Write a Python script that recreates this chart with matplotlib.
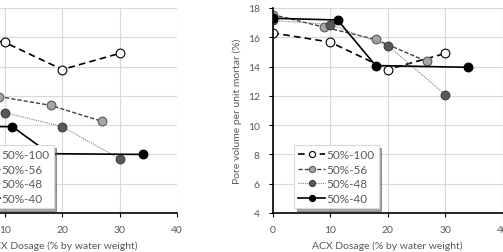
import matplotlib.pyplot as plt

plt.rcParams['font.family'] = ['Lato', 'DejaVu Sans']

# Series labels
labels = ['50%-100', '50%-56', '50%-48', '50%-40']

# Left panel (partly cropped off the figure)
left_x = {
    '50%-100': [0, 10, 20, 30],
    '50%-56': [0, 9, 18, 27],
    '50%-48': [0, 10, 20, 30],
    '50%-40': [0, 11.3, 17.8, 34],
}
left_y = {
    '50%-100': [16.4, 15.65, 13.8, 14.9],
    '50%-56': [12.4, 11.95, 11.35, 10.25],
    '50%-48': [11.2, 10.85, 9.9, 7.7],
    '50%-40': [9.9, 9.9, 8.05, 8.0],
}

# Right panel: pore volume per unit mortar
right_x = {
    '50%-100': [0, 10, 20, 30],
    '50%-56': [0, 8.9, 17.9, 26.8],
    '50%-48': [0, 10, 20, 30],
    '50%-40': [0, 11.3, 17.9, 34],
}
right_y = {
    '50%-100': [16.3, 15.67, 13.8, 14.9],
    '50%-56': [17.55, 16.7, 15.85, 14.35],
    '50%-48': [17.15, 16.87, 15.43, 12.08],
    '50%-40': [17.3, 17.18, 14.07, 13.95],
}

styles = {
    '50%-100': dict(color='black', ls=(0, (4, 2.5)), lw=1.2, mfc='white', mec='black'),
    '50%-56': dict(color='#404040', ls=(0, (3, 1.5)), lw=1.0, mfc='#a6a6a6', mec='#595959'),
    '50%-48': dict(color='#7f7f7f', ls=(0, (1, 1)), lw=0.8, mfc='#595959', mec='#404040'),
    '50%-40': dict(color='black', ls='-', lw=1.2, mfc='black', mec='black'),
}

text_color = '#595959'

fig = plt.figure(figsize=(5.03, 2.53), dpi=100)
ax1 = fig.add_axes([-52.5 / 503, 39 / 253, 229.5 / 503, 205 / 253])
ax2 = fig.add_axes([272.5 / 503, 39 / 253, 230.5 / 503, 205 / 253])


def draw(ax, xs, ys):
    for lab in labels:
        st = styles[lab]
        ax.plot(xs[lab], ys[lab], label=lab, color=st['color'], linestyle=st['ls'],
                linewidth=st['lw'], marker='o', markersize=6.3,
                markerfacecolor=st['mfc'], markeredgecolor=st['mec'],
                markeredgewidth=0.8)
    ax.set_xlim(0, 40)
    ax.set_ylim(4, 18)
    ax.set_xticks([0, 10, 20, 30, 40])
    ax.set_yticks(range(4, 19, 2))
    ax.grid(True, color='#d9d9d9', linewidth=0.8)
    ax.set_axisbelow(True)
    for s in ['top', 'right']:
        ax.spines[s].set_visible(False)
    for s in ['left', 'bottom']:
        ax.spines[s].set_color('black')
        ax.spines[s].set_linewidth(1.2)
    ax.tick_params(direction='out', length=3, width=0.8, colors='black',
                   labelcolor=text_color, labelsize=7.5, pad=6)
    ax.set_xlabel('ACX Dosage (% by water weight)', color=text_color,
                  fontsize=7.5, labelpad=4)
    ax.set_ylabel('Pore volume per unit mortar (%)', color=text_color,
                  fontsize=7.5, labelpad=4)
    leg = ax.legend(loc='lower left', bbox_to_anchor=(0.093, 0.024), borderaxespad=0,
                    fontsize=8.5, frameon=True, fancybox=False, shadow=True,
                    handlelength=2.3, handletextpad=0.1, labelspacing=0.3,
                    borderpad=0.35, markerscale=0.7)
    leg.get_frame().set_edgecolor('#d9d9d9')
    leg.get_frame().set_linewidth(0.8)
    for t in leg.get_texts():
        t.set_color(text_color)
    ax.patch.set_alpha(0)


draw(ax1, left_x, left_y)
draw(ax2, right_x, right_y)

fig.savefig('out.png', dpi=100)
